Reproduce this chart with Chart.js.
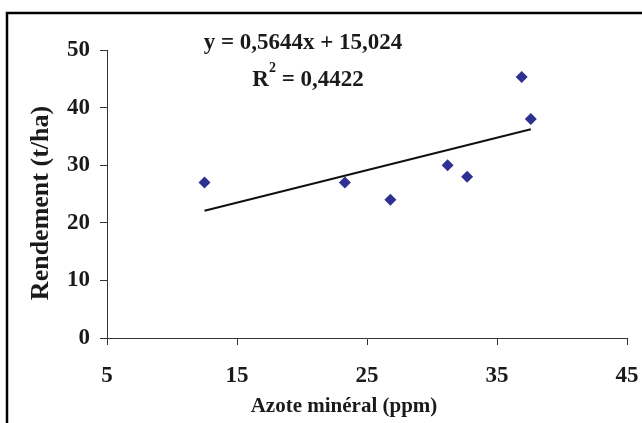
<!DOCTYPE html>
<html>
<head>
<meta charset="utf-8">
<script src="https://cdn.jsdelivr.net/npm/chart.js@4.4.1/dist/chart.umd.min.js"></script>
<style>
  html, body { margin: 0; padding: 0; background: #fff; }
  #wrap { width: 642px; height: 423px; }
</style>
</head>
<body>
<div id="wrap"><canvas id="chart" width="642" height="423"></canvas></div>
<script>
// Azote minéral (ppm) vs rendement (t/ha)
const azote = [12.5, 23.3, 26.8, 31.2, 32.7, 36.9, 37.6];
const rendement = [27, 27, 24, 30, 28, 45.3, 38];
const xTicks = [5, 15, 25, 35, 45];
const yTicks = [0, 10, 20, 30, 40, 50];

// regression shown on the chart
const slope = 0.5644;
const intercept = 15.024;
const r2 = 0.4422;

const serif = "'Liberation Serif', 'Times New Roman', serif";
const ink = "#1a1a1a";

const fr = n => n.toString().replace(".", ",");

const points = azote.map((x, i) => ({ x: x, y: rendement[i] }));
const xMin = Math.min(...azote);
const xMax = Math.max(...azote);
const trend = [
    { x: xMin, y: slope * xMin + intercept },
    { x: xMax, y: slope * xMax + intercept }
];

// frame, equation and axis titles
const decorations = {
    id: "decorations",
    afterDraw(chart) {
        const ctx = chart.ctx;
        ctx.save();

        ctx.strokeStyle = "#000";
        ctx.lineWidth = 2.5;
        ctx.beginPath();
        ctx.moveTo(7, 423);
        ctx.lineTo(7, 13);
        ctx.lineTo(642, 13);
        ctx.stroke();

        ctx.fillStyle = ink;
        ctx.textBaseline = "middle";
        ctx.textAlign = "center";
        ctx.font = "bold 23px " + serif;
        ctx.fillText("y = " + fr(slope) + "x + " + fr(intercept), 303, 43);

        // R² with a raised 2
        const rest = " = " + fr(r2);
        ctx.font = "bold 23px " + serif;
        const wR = ctx.measureText("R").width;
        const wRest = ctx.measureText(rest).width;
        ctx.font = "bold 14px " + serif;
        const w2 = ctx.measureText("2").width;
        let x = 308 - (wR + w2 + wRest) / 2;
        ctx.textAlign = "left";
        ctx.font = "bold 23px " + serif;
        ctx.fillText("R", x, 80);
        ctx.font = "bold 14px " + serif;
        ctx.fillText("2", x + wR, 68);
        ctx.font = "bold 23px " + serif;
        ctx.fillText(rest, x + wR + w2, 80);

        ctx.textAlign = "center";
        ctx.textBaseline = "alphabetic";
        ctx.font = "bold 21px " + serif;
        ctx.fillText("Azote minéral (ppm)", 344, 412);

        ctx.translate(41, 203);
        ctx.rotate(-Math.PI / 2);
        ctx.textBaseline = "middle";
        ctx.font = "bold 26px " + serif;
        ctx.fillText("Rendement (t/ha)", 0, 0);

        ctx.restore();
    }
};

new Chart(document.getElementById("chart").getContext("2d"), {
    type: "scatter",
    data: {
        datasets: [{
            label: "Rendement",
            data: points,
            pointStyle: "rectRot",
            pointRadius: 6,
            pointHoverRadius: 6,
            backgroundColor: "#2e3192",
            borderColor: "#2e3192",
            borderWidth: 0,
            order: 1
        }, {
            label: "Tendance",
            data: trend,
            showLine: true,
            borderColor: "#111",
            borderWidth: 2,
            pointRadius: 0,
            fill: false,
            order: 2
        }]
    },
    options: {
        responsive: false,
        maintainAspectRatio: false,
        animation: false,
        layout: { padding: { top: 50, right: 0, bottom: 0, left: 0 } },
        plugins: {
            legend: { display: false },
            tooltip: { enabled: false }
        },
        scales: {
            x: {
                type: "linear",
                min: 5,
                max: 45,
                afterBuildTicks: scale => { scale.ticks = xTicks.map(v => ({ value: v })); },
                afterFit: scale => {
                    scale.height = 85;
                    scale.paddingRight = 15;
                },
                grid: { display: true, drawOnChartArea: false, drawTicks: true, tickLength: 7, color: "#333", lineWidth: 1 },
                border: { display: true, color: "#333", width: 1 },
                ticks: {
                    padding: 17,
                    color: ink,
                    font: { family: serif, size: 23, weight: "bold" }
                }
            },
            y: {
                type: "linear",
                min: 0,
                max: 50,
                afterBuildTicks: scale => { scale.ticks = yTicks.map(v => ({ value: v })); },
                afterFit: scale => { scale.width = 107; },
                grid: { display: true, drawOnChartArea: false, drawTicks: true, tickLength: 7, color: "#333", lineWidth: 1 },
                border: { display: true, color: "#333", width: 1 },
                ticks: {
                    padding: 10,
                    color: ink,
                    font: { family: serif, size: 23, weight: "bold" }
                }
            }
        }
    },
    plugins: [decorations]
});
</script>
</body>
</html>
